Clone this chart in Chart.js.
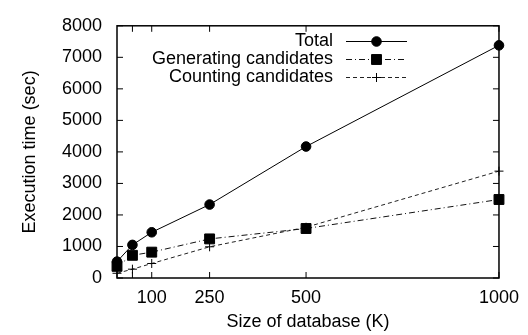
<!DOCTYPE html>
<html>
<head>
<meta charset="utf-8">
<script src="https://cdn.jsdelivr.net/npm/chart.js@4/dist/chart.umd.min.js"></script>
<style>
  html, body { margin: 0; padding: 0; background: #fff; }
  #wrap { width: 528px; height: 335px; }
</style>
</head>
<body>
<div id="wrap"><canvas id="exec-time" width="528" height="335"></canvas></div>
<script>
// database sizes (K)
const sizes = [10, 50, 100, 250, 500, 1000];
// execution time (sec)
const total = [520, 1050, 1450, 2330, 4170, 7380];
const generating = [370, 720, 820, 1240, 1570, 2490];
const counting = [150, 280, 460, 990, 1610, 3390];

const xTicks = [50, 100, 250, 500, 1000];
const xTickLabels = ['', '100', '250', '500', '1000'];
const yTicks = [0, 1000, 2000, 3000, 4000, 5000, 6000, 7000, 8000];

const toPoints = vals => sizes.map((s, i) => ({ x: s, y: vals[i] }));

Chart.defaults.font.family = "'Liberation Sans', Arial, sans-serif";
Chart.defaults.font.size = 18;
Chart.defaults.color = '#000';

// gnuplot style frame with inward ticks on all four sides
const frame = {
  id: 'frame',
  beforeDatasetsDraw(chart) {
    const { ctx, chartArea: a, scales: { x, y } } = chart;
    ctx.save();
    ctx.strokeStyle = '#000';
    ctx.lineWidth = 1;
    ctx.beginPath();
    yTicks.forEach(v => {
      const p = y.getPixelForValue(v);
      ctx.moveTo(a.left, p); ctx.lineTo(a.left + 6, p);
      ctx.moveTo(a.right, p); ctx.lineTo(a.right - 6, p);
    });
    xTicks.forEach(v => {
      const p = x.getPixelForValue(v);
      ctx.moveTo(p, a.bottom); ctx.lineTo(p, a.bottom - 6);
      ctx.moveTo(p, a.top); ctx.lineTo(p, a.top + 6);
    });
    ctx.stroke();
    ctx.lineWidth = 1.5;
    ctx.strokeRect(a.left, a.top, a.right - a.left, a.bottom - a.top);
    ctx.restore();
  }
};

// key in the top right: text, then a line sample with the marker
const key = {
  id: 'key',
  afterDatasetsDraw(chart) {
    const { ctx } = chart;
    ctx.save();
    chart.data.datasets.forEach((ds, i) => {
      const yy = 41.5 + i * 18;
      ctx.font = "18px 'Liberation Sans', Arial, sans-serif";
      ctx.fillStyle = '#000';
      ctx.textAlign = 'right';
      ctx.textBaseline = 'middle';
      ctx.fillText(ds.label, 333, yy);
      ctx.strokeStyle = ds.borderColor;
      ctx.lineWidth = ds.borderWidth;
      ctx.setLineDash(ds.borderDash || []);
      ctx.beginPath();
      ctx.moveTo(346, yy);
      ctx.lineTo(407, yy);
      ctx.stroke();
      ctx.setLineDash([]);
      ctx.fillStyle = '#000';
      ctx.strokeStyle = '#000';
      ctx.lineWidth = 1;
      Chart.helpers.drawPoint(ctx, {
        pointStyle: ds.pointStyle, radius: ds.pointRadius, borderWidth: 1, rotation: 0
      }, 376.5, yy);
    });
    ctx.restore();
  }
};

const ctx = document.getElementById('exec-time');

new Chart(ctx, {
  type: 'line',
  data: {
    datasets: [{
      label: 'Total',
      data: toPoints(total),
      borderColor: '#000',
      borderWidth: 1,
      pointStyle: 'circle',
      pointRadius: 4.8,
      pointBackgroundColor: '#000',
      pointBorderColor: '#000',
      clip: false
    }, {
      label: 'Generating candidates',
      data: toPoints(generating),
      borderColor: '#111',
      borderWidth: 1,
      borderDash: [6, 3, 1, 3],
      pointStyle: 'rect',
      pointRadius: 7,
      pointBackgroundColor: '#000',
      pointBorderColor: '#000',
      clip: false
    }, {
      label: 'Counting candidates',
      data: toPoints(counting),
      borderColor: '#222',
      borderWidth: 1,
      borderDash: [4, 3],
      pointStyle: 'cross',
      pointRadius: 4.5,
      pointBorderWidth: 1,
      pointBackgroundColor: '#000',
      pointBorderColor: '#000',
      clip: false
    }]
  },
  options: {
    responsive: false,
    animation: false,
    events: [],
    layout: { padding: { top: 18, right: 25, bottom: 0, left: 0 } },
    scales: {
      x: {
        type: 'linear',
        min: 10,
        max: 1000,
        grid: { display: false, drawTicks: false },
        border: { display: false },
        afterBuildTicks: s => { s.ticks = xTicks.map(v => ({ value: v })); },
        afterFit: s => { s.height = 57; },
        ticks: {
          padding: 9,
          maxRotation: 0,
          autoSkip: false,
          callback: (v) => xTickLabels[xTicks.indexOf(v)]
        },
        title: {
          display: true,
          text: 'Size of database (K)',
          padding: { top: 0, bottom: 2 }
        }
      },
      y: {
        min: 0,
        max: 8000,
        grid: { display: false, drawTicks: false },
        border: { display: false },
        afterBuildTicks: s => { s.ticks = yTicks.map(v => ({ value: v })); },
        afterFit: s => { s.width = 117; },
        ticks: {
          padding: 15,
          callback: v => String(v)
        },
        title: {
          display: true,
          text: 'Execution time (sec)',
          padding: { top: 19, bottom: 0 }
        }
      }
    },
    plugins: {
      legend: { display: false },
      tooltip: { enabled: false }
    }
  },
  plugins: [frame, key]
});
</script>
</body>
</html>
